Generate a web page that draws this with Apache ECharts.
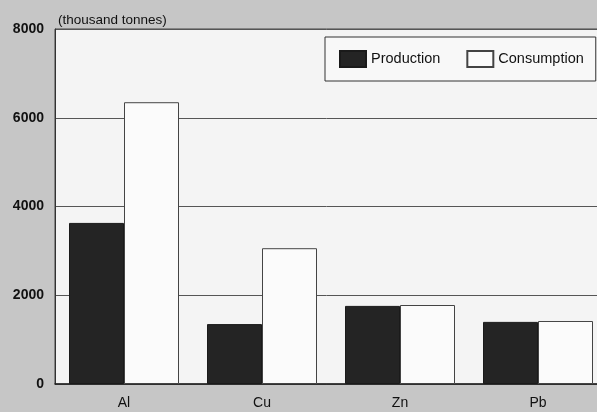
<!DOCTYPE html>
<html>
<head>
<meta charset="utf-8">
<script src="https://cdn.jsdelivr.net/npm/echarts@6/dist/echarts.min.js"></script>
<style>
  html, body { margin: 0; padding: 0; background: #c6c6c6; }
  #chart { width: 597px; height: 412px; }
</style>
</head>
<body>
<div id="chart"></div>
<script>
  // metals, thousand tonnes
  const metals = ['Al', 'Cu', 'Zn', 'Pb'];
  const production = [3630, 1350, 1760, 1400];
  const consumption = [6350, 3060, 1780, 1420];
  const yTicks = [0, 2000, 4000, 6000, 8000];

  const font = 'Liberation Sans, Arial, sans-serif';
  const chart = echarts.init(document.getElementById('chart'));

  chart.setOption({
    backgroundColor: '#c6c6c6',
    animation: false,
    title: {
      text: '(thousand tonnes)',
      left: 53,
      top: 8,
      textStyle: { fontFamily: font, fontSize: 13.5, fontWeight: 'normal', color: '#111' }
    },
    legend: {
      data: ['Production', 'Consumption'],
      orient: 'horizontal',
      icon: 'rect',
      left: 325,
      top: 37,
      width: 260,
      padding: [13, 12, 13, 14],
      itemWidth: 26,
      itemHeight: 16,
      itemGap: 26,
      backgroundColor: '#f8f8f8',
      borderColor: '#333',
      borderWidth: 1,
      textStyle: { fontFamily: font, fontSize: 14.5, color: '#111' }
    },
    grid: {
      left: 55,
      top: 29,
      width: 552,
      height: 355,
      outerBoundsMode: 'none',
      show: true,
      backgroundColor: '#f4f4f4',
      borderColor: '#444',
      borderWidth: 1
    },
    xAxis: {
      type: 'category',
      data: metals,
      axisLine: { lineStyle: { color: '#222', width: 1.5 } },
      axisTick: { show: false },
      axisLabel: { fontFamily: font, fontSize: 14, color: '#111', margin: 12 }
    },
    yAxis: {
      type: 'value',
      min: yTicks[0],
      max: yTicks[yTicks.length - 1],
      interval: 2000,
      axisLine: { show: true, lineStyle: { color: '#333' } },
      axisTick: { show: false },
      axisLabel: {
        fontFamily: font, fontSize: 14, fontWeight: 'bold', color: '#111', margin: 11,
        formatter: v => String(v)
      },
      splitLine: { lineStyle: { color: '#555', width: 1 } }
    },
    series: [
      {
        name: 'Production',
        type: 'bar',
        barWidth: 55,
        barGap: '0%',
        data: production,
        itemStyle: { color: '#242424', borderColor: '#1a1a1a', borderWidth: 1 }
      },
      {
        name: 'Consumption',
        type: 'bar',
        barWidth: 55,
        barGap: '0%',
        data: consumption,
        itemStyle: { color: '#fbfbfb', borderColor: '#444', borderWidth: 1 }
      }
    ]
  });
</script>
</body>
</html>
